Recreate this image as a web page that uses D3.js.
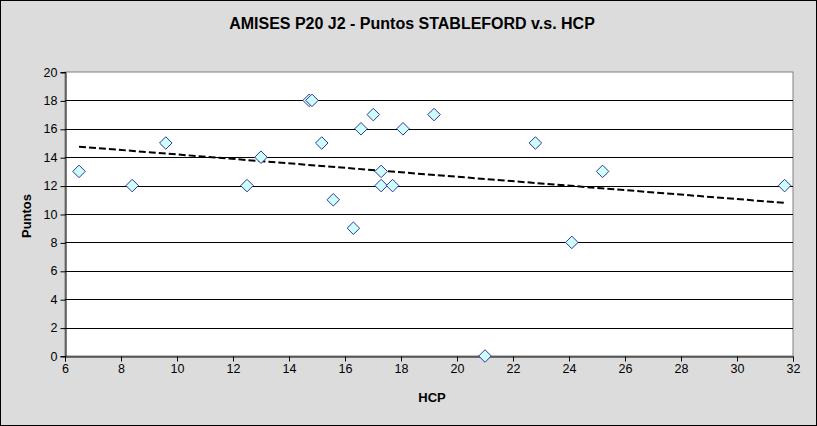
<!DOCTYPE html>
<html><head><meta charset="utf-8">
<script src="https://cdn.jsdelivr.net/npm/d3@7"></script>
<style>body{margin:0;padding:0;background:#fff}svg{display:block}</style>
</head><body>
<script>
const title = "AMISES P20 J2 - Puntos STABLEFORD v.s. HCP";
const xLabel = "HCP";
const yLabel = "Puntos";
const hcp = [6.5, 8.4, 9.6, 12.5, 13.0, 14.72, 14.82, 15.17, 15.58, 16.3, 16.57, 17.01, 17.29, 17.29, 17.7, 18.07, 19.18, 21.0, 22.8, 24.1, 25.2, 31.7];
const puntos = [13, 12, 15, 12, 14, 18, 18, 15, 11, 9, 16, 17, 13, 12, 12, 16, 17, 0, 15, 8, 13, 12];
const xTicks = [6, 8, 10, 12, 14, 16, 18, 20, 22, 24, 26, 28, 30, 32];
const yTicks = [0, 2, 4, 6, 8, 10, 12, 14, 16, 18, 20];

const W = 817, H = 426;
const L = 65, R = 793, T = 72, B = 356;
const svg = d3.select("body").append("svg").attr("width", W).attr("height", H);
svg.append("rect").attr("x", 0.5).attr("y", 0.5).attr("width", W - 1).attr("height", H - 1)
  .attr("fill", "#dcdcdc").attr("stroke", "#000");
const x = d3.scaleLinear().domain([6, 32]).range([L, R]);
const y = d3.scaleLinear().domain([0, 20]).range([B, T]);

svg.append("rect").attr("x", L).attr("y", T).attr("width", R - L).attr("height", B - T)
  .attr("fill", "#fff").attr("stroke", "#808080");
// gridlines
svg.append("g").selectAll("line").data(yTicks.filter(d => d > 0 && d < 20)).join("line")
  .attr("x1", L).attr("x2", R).attr("y1", d => Math.round(y(d)) + 0.5).attr("y2", d => Math.round(y(d)) + 0.5)
  .attr("stroke", "#000");

const font = "Liberation Sans, Arial, sans-serif";
const ax = svg.append("g").attr("transform", `translate(0,${B + 0.5})`)
  .call(d3.axisBottom(x).tickValues(xTicks).tickSize(5).tickPadding(3).tickFormat(d3.format("d")));
const ay = svg.append("g").attr("transform", `translate(${L + 0.5},0)`)
  .call(d3.axisLeft(y).tickValues(yTicks).tickSize(5).tickPadding(3).tickFormat(d3.format("d")));
[ax, ay].forEach(g => {
  g.select(".domain").attr("stroke", "#000");
  g.selectAll(".tick line").attr("stroke", "#000");
  g.selectAll("text").attr("font-family", font).attr("font-size", 12.5).attr("fill", "#000");
});
ay.selectAll(".tick line").attr("transform", "translate(0,0.5)");

// trendline (least squares from the data)
const mx = d3.mean(hcp), my = d3.mean(puntos);
const slope = d3.sum(hcp, (v, i) => (v - mx) * (puntos[i] - my)) / d3.sum(hcp, v => (v - mx) ** 2);
const icpt = my - slope * mx;
const x0 = d3.min(hcp), x1 = d3.max(hcp);
svg.append("line").attr("x1", x(x0)).attr("y1", y(icpt + slope * x0)).attr("x2", x(x1)).attr("y2", y(icpt + slope * x1))
  .attr("stroke", "#000").attr("stroke-width", 2).attr("stroke-dasharray", "7,3");

// points
const sym = d3.symbol().type(d3.symbolDiamond2).size(100);
svg.append("g").selectAll("path").data(hcp.map((v, i) => [v, puntos[i]])).join("path")
  .attr("transform", d => `translate(${x(d[0])},${y(d[1])})`)
  .attr("d", sym).attr("fill", "#ccffff").attr("stroke", "#333399").attr("stroke-width", 1);

svg.append("text").attr("x", 412).attr("y", 29).attr("text-anchor", "middle")
  .attr("font-family", font).attr("font-weight", "bold").attr("font-size", 16).text(title);
svg.append("text").attr("x", 432).attr("y", 402).attr("text-anchor", "middle")
  .attr("font-family", font).attr("font-weight", "bold").attr("font-size", 13).text(xLabel);
svg.append("text").attr("transform", "translate(31,216) rotate(-90)").attr("text-anchor", "middle")
  .attr("font-family", font).attr("font-weight", "bold").attr("font-size", 13).text(yLabel);
</script>
</body></html>
